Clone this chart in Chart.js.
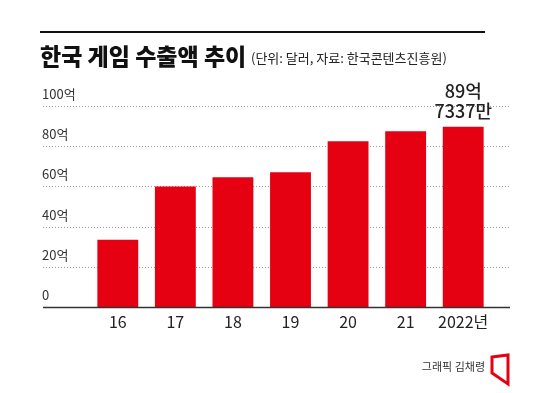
<!DOCTYPE html>
<html>
<head>
<meta charset="utf-8">
<script src="https://cdn.jsdelivr.net/npm/chart.js@4"></script>
<style>
  body { margin: 0; background: #fff; }
  #wrap { width: 550px; height: 393px; }
</style>
</head>
<body>
<div id="wrap"><canvas id="chart-bar" width="550" height="393"></canvas></div>
<script>
const years = ['16', '17', '18', '19', '20', '21', '2022년'];
const exports = [33.5, 60, 64.5, 67, 82.5, 87.5, 89.7337];
const yTicks = [0, 20, 40, 60, 80, 100];
const yTickLabels = ['0', '20억', '40억', '60억', '80억', '100억'];
const lastLabel = ['89억', '7337만'];

const RED = '#e50012';
const FONT = '"Noto Sans CJK KR", "Noto Sans", sans-serif';

const decor = {
  id: 'decor',
  beforeDatasetsDraw(chart) {
    const ctx = chart.ctx;
    const y = chart.scales.y;
    ctx.save();
    // dotted grid lines, wider than the bars
    ctx.strokeStyle = '#9a9a9a';
    ctx.lineWidth = 1;
    ctx.setLineDash([1, 2]);
    yTicks.forEach(v => {
      if (v === 0) return;
      const py = Math.round(y.getPixelForValue(v)) + 0.5;
      ctx.beginPath();
      ctx.moveTo(43, py);
      ctx.lineTo(510, py);
      ctx.stroke();
    });
    ctx.setLineDash([]);
    // tick labels sit above their line
    ctx.fillStyle = '#333';
    ctx.font = '13px ' + FONT;
    ctx.textBaseline = 'middle';
    ctx.textAlign = 'left';
    yTicks.forEach((v, i) => {
      ctx.fillText(yTickLabels[i], 42, y.getPixelForValue(v) - 12);
    });
    ctx.restore();
  },
  afterDatasetsDraw(chart) {
    const ctx = chart.ctx;
    const x = chart.scales.x;
    const y = chart.scales.y;
    ctx.save();
    // base line
    ctx.strokeStyle = '#333';
    ctx.lineWidth = 1.5;
    ctx.beginPath();
    ctx.moveTo(43, y.getPixelForValue(0) + 0.5);
    ctx.lineTo(510, y.getPixelForValue(0) + 0.5);
    ctx.stroke();

    // x labels
    ctx.fillStyle = '#222';
    ctx.font = '16px ' + FONT;
    ctx.textAlign = 'center';
    ctx.textBaseline = 'middle';
    years.forEach((yr, i) => {
      ctx.fillText(yr, x.getPixelForValue(i), 322);
    });

    // value label on the last bar
    const lx = x.getPixelForValue(years.length - 1);
    const ly = y.getPixelForValue(exports[exports.length - 1]);
    ctx.font = '500 18px ' + FONT;
    ctx.fillText(lastLabel[0], lx, ly - 35);
    ctx.fillText(lastLabel[1], lx, ly - 15);

    // top rule and title
    ctx.fillStyle = '#111';
    ctx.fillRect(40, 31, 445, 2);
    ctx.textAlign = 'left';
    ctx.font = '900 23px ' + FONT;
    ctx.fillText('한국 게임 수출액 추이', 40, 56);
    ctx.font = '13px ' + FONT;
    ctx.fillStyle = '#222';
    ctx.fillText('(단위: 달러, 자료: 한국콘텐츠진흥원)', 251, 58);

    // credit
    ctx.font = '11px ' + FONT;
    ctx.fillStyle = '#333';
    ctx.textAlign = 'right';
    ctx.fillText('그래픽 김채령', 485, 367);
    ctx.strokeStyle = RED;
    ctx.lineWidth = 3;
    ctx.lineJoin = 'miter';
    ctx.beginPath();
    ctx.moveTo(492, 357);
    ctx.lineTo(508, 355);
    ctx.lineTo(508, 384);
    ctx.lineTo(492, 373);
    ctx.closePath();
    ctx.stroke();
    ctx.restore();
  }
};

new Chart(document.getElementById('chart-bar'), {
  type: 'bar',
  data: {
    labels: years,
    datasets: [{
      data: exports,
      backgroundColor: RED,
      borderWidth: 0,
      barPercentage: 0.71,
      categoryPercentage: 1
    }]
  },
  options: {
    responsive: false,
    animation: false,
    layout: { padding: { left: 89, right: 58, top: 106, bottom: 86 } },
    plugins: { legend: { display: false }, tooltip: { enabled: false } },
    scales: {
      x: { display: false },
      y: { display: false, min: 0, max: 100 }
    }
  },
  plugins: [decor]
});
</script>
</body>
</html>
